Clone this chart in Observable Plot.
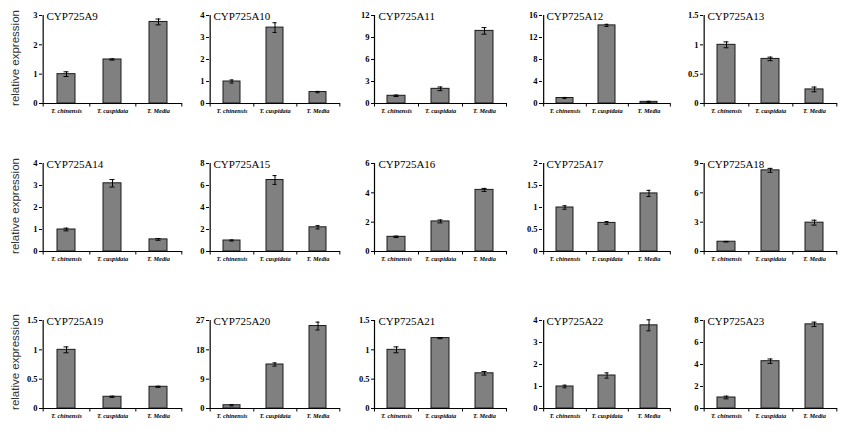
<!DOCTYPE html>
<html><head><meta charset="utf-8">
<script src="https://cdn.jsdelivr.net/npm/d3@7"></script>
<script src="https://cdn.jsdelivr.net/npm/@observablehq/plot@0.6"></script>
<style>
body{margin:0;background:#fff}
#c{position:relative;width:856px;height:432px;overflow:hidden;background:#fff}
#c svg{position:absolute;overflow:visible}
#c svg text{font-family:"Liberation Serif","DejaVu Serif",serif !important}
.yl{position:absolute;font-family:"Liberation Sans",Arial,sans-serif;font-size:11.5px;color:#333;white-space:nowrap;transform:translate(-50%,-50%) rotate(-90deg)}
</style>
</head><body><div id="c"></div>
<script>
// ---- data ----
const genes = ["CYP725A9","CYP725A10","CYP725A11","CYP725A12","CYP725A13",
               "CYP725A14","CYP725A15","CYP725A16","CYP725A17","CYP725A18",
               "CYP725A19","CYP725A20","CYP725A21","CYP725A22","CYP725A23"];
const categories = ["T. chinensis","T. cuspidata","T. Media"];
const chinensis = [1.0, 1.0, 1.05, 1.0, 1.0,  1.0, 1.0, 1.0, 1.0, 1.0,  1.0, 1.0, 1.0, 1.0, 1.0];
const cuspidata = [1.5, 3.45, 2.0, 14.2, 0.76, 3.1, 6.5, 2.05, 0.65, 8.3, 0.2, 13.5, 1.2, 1.5, 4.3];
const media     = [2.78, 0.52, 9.9, 0.3, 0.24, 0.55, 2.2, 4.2, 1.32, 2.95, 0.37, 25.3, 0.6, 3.78, 7.65];
const errChinensis = [0.08, 0.07, 0.1, 0.1, 0.05, 0.06, 0.05, 0.05, 0.04, 0.03, 0.05, 0.2, 0.05, 0.06, 0.12];
const errCuspidata = [0.02, 0.22, 0.25, 0.2, 0.03, 0.17, 0.4, 0.1, 0.03, 0.2, 0.01, 0.5, 0.01, 0.12, 0.2];
const errMedia     = [0.1, 0.03, 0.45, 0.1, 0.04, 0.04, 0.15, 0.1, 0.07, 0.25, 0.01, 1.2, 0.03, 0.25, 0.2];
const yMax  = [3, 4, 12, 16, 1.5, 4, 8, 6, 2, 9, 1.5, 27, 1.5, 4, 8];
const yStep = [1, 1, 3, 4, 0.5, 1, 2, 2, 0.5, 3, 0.5, 9, 0.5, 1, 2];
const yLabel = "relative expression";

// ---- layout ----
const colX = [42, 209, 374, 542, 703];
const colW = [140, 131, 132, 128, 134];
const rowTop = [15, 163, 320];
const plotH = 88;
const mL = 24, mR = 4, mT = 8, mB = 22;
const serif = "Liberation Serif, DejaVu Serif, serif";

const container = document.getElementById("c");

genes.forEach((gene, gi) => {
  const r = Math.floor(gi / 5), c = gi % 5;
  const w = colW[c];
  const step = w / 3;
  const rows = categories.map((cat, k) => ({
    cat,
    v: [chinensis, cuspidata, media][k][gi],
    e: [errChinensis, errCuspidata, errMedia][k][gi]
  }));
  const max = yMax[gi];
  const ticks = d3.range(0, max + yStep[gi] / 2, yStep[gi]);
  const tickLen = -max * 3.5 / plotH;
  const svg = Plot.plot({
    width: w + mL + mR,
    height: plotH + mT + mB,
    marginLeft: mL, marginRight: mR, marginTop: mT, marginBottom: mB,
    style: {fontFamily: serif, fontSize: "8.5px", color: "#000", background: "transparent", overflow: "visible"},
    x: {domain: categories, paddingInner: 0.6, paddingOuter: 0.3, axis: null},
    y: {domain: [0, max], axis: null},
    marks: [
      Plot.axisY({ticks, label: null, tickSize: 3, tickPadding: 2, tickFormat: d => String(d),
                  fontSize: 8.5, fontWeight: "bold", fontFamily: serif, fill: "#000", stroke: "#000"}),
      Plot.axisX({label: null, tickSize: 0, tickPadding: 5, fontSize: 6.3, fontStyle: "italic",
                  fontWeight: "bold", fontFamily: serif, fill: "#000"}),
      Plot.barY(rows, {x: "cat", y: "v", fill: "#808080", stroke: "#1a1a1a", strokeWidth: 1}),
      Plot.ruleX(rows, {x: "cat", y1: d => d.v - d.e, y2: d => d.v + d.e, stroke: "#000", strokeWidth: 1}),
      Plot.tickY(rows, {x: "cat", y: d => d.v + d.e, insetLeft: 6.5, insetRight: 6.5, stroke: "#000", strokeWidth: 1}),
      Plot.tickY(rows, {x: "cat", y: d => d.v - d.e, insetLeft: 6.5, insetRight: 6.5, stroke: "#000", strokeWidth: 1}),
      Plot.ruleY([0], {stroke: "#000", strokeWidth: 1.2}),
      Plot.ruleX([categories[0]], {x: d => d, dx: -step / 2, y1: 0, y2: max, stroke: "#000", strokeWidth: 1.2}),
      Plot.ruleX(categories, {x: d => d, dx: step / 2, y1: 0, y2: tickLen, stroke: "#000", strokeWidth: 1, clip: false}),
      Plot.ruleX([categories[0]], {x: d => d, dx: -step / 2, y1: 0, y2: tickLen, stroke: "#000", strokeWidth: 1, clip: false}),
      Plot.text([gene], {frameAnchor: "top-left", dx: 4, dy: -3, lineAnchor: "top", textAnchor: "start",
                         fontSize: 11, fontFamily: serif, fill: "#000"})
    ]
  });
  svg.style.left = (colX[c] - mL) + "px";
  svg.style.top = (rowTop[r] - mT) + "px";
  container.appendChild(svg);
});

// y-axis titles, one per row
[58, 206, 362].forEach(cy => {
  const d = document.createElement("div");
  d.className = "yl";
  d.textContent = yLabel;
  d.style.left = "15px";
  d.style.top = cy + "px";
  container.appendChild(d);
});
</script>
</body></html>
